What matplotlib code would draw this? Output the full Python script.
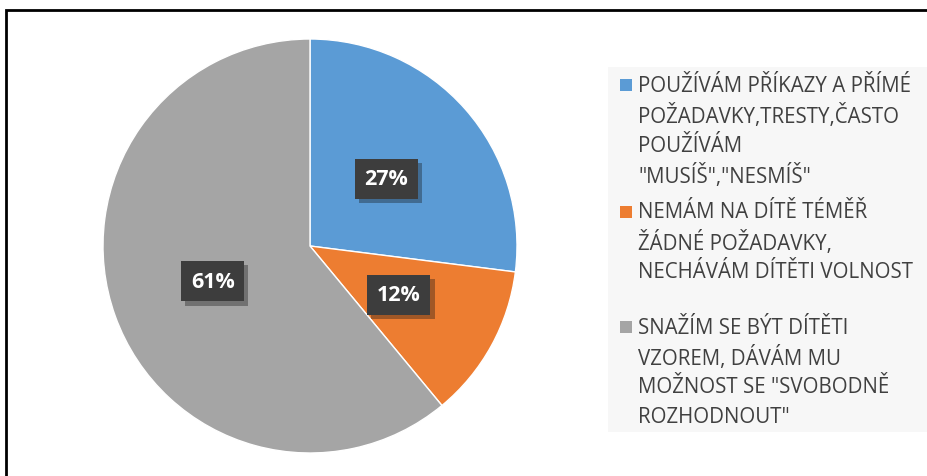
import matplotlib.pyplot as plt
from matplotlib.patches import Rectangle
import matplotlib.patheffects as pe

# data
labels = [
    'POUŽÍVÁM PŘÍKAZY A PŘÍMÉ\nPOŽADAVKY,TRESTY,ČASTO\nPOUŽÍVÁM\n"MUSÍŠ","NESMÍŠ"',
    'NEMÁM NA DÍTĚ TÉMĚŘ\nŽÁDNÉ POŽADAVKY,\nNECHÁVÁM DÍTĚTI VOLNOST',
    'SNAŽÍM SE BÝT DÍTĚTI\nVZOREM, DÁVÁM MU\nMOŽNOST SE "SVOBODNĚ\nROZHODNOUT"',
]
values = [27, 12, 61]
colors = ['#5B9BD5', '#ED7D31', '#A5A5A5']

W, H = 928, 477
fig = plt.figure(figsize=(W / 100, H / 100), dpi=100)
fig.patch.set_facecolor('white')

# outer frame (clipped at right / bottom like the screenshot)
fig.add_artist(Rectangle((6 / W, -0.05), 1.1, 1 - 11 / H + 0.05, transform=fig.transFigure,
                         fill=False, edgecolor='black', linewidth=2, clip_on=False))

# legend background
fig.add_artist(Rectangle((608 / W, 1 - 433 / H), (928 - 608) / W, (433 - 68) / H,
                         transform=fig.transFigure, facecolor='#f7f7f7', edgecolor='none'))

# pie
cx, cy, r = 310, 247, 207
ax = fig.add_axes([(cx - r) / W, 1 - (cy + r) / H, 2 * r / W, 2 * r / H])
wedges, texts, autotexts = ax.pie(values, colors=colors, startangle=90, counterclock=False,
                                  autopct='%1.0f%%', pctdistance=0.49,
                                  wedgeprops=dict(edgecolor='white', linewidth=1))
ax.set_xlim(-1, 1)
ax.set_ylim(-1, 1)
ax.set_aspect('auto')

# move the big label a bit like excel does
autotexts[2].set_position((-0.47, -0.17))

for t in autotexts:
    t.set_color('white')
    t.set_fontsize(15.5)
    t.set_fontweight('bold')
    t.set_fontfamily('Open Sans')
    t.set_bbox(dict(boxstyle='square,pad=0.45', facecolor='#3d3d3d', edgecolor='none',
                    path_effects=[pe.SimplePatchShadow(offset=(3, -3), alpha=0.35), pe.Normal()]))

# legend drawn by hand
starts = [86, 213, 328]
line_h = 30
for i, (lab, col) in enumerate(zip(labels, colors)):
    y0 = starts[i]
    fig.add_artist(Rectangle((620 / W, 1 - (y0 + 6) / H), 12 / W, 12 / H,
                             transform=fig.transFigure, facecolor=col, edgecolor='none'))
    for j, line in enumerate(lab.split('\n')):
        fig.text(638 / W, 1 - (y0 + j * line_h) / H, line, fontsize=14.8, color='#404040',
                 family='Open Sans', va='center', ha='left')

fig.savefig('out.png', dpi=100)
